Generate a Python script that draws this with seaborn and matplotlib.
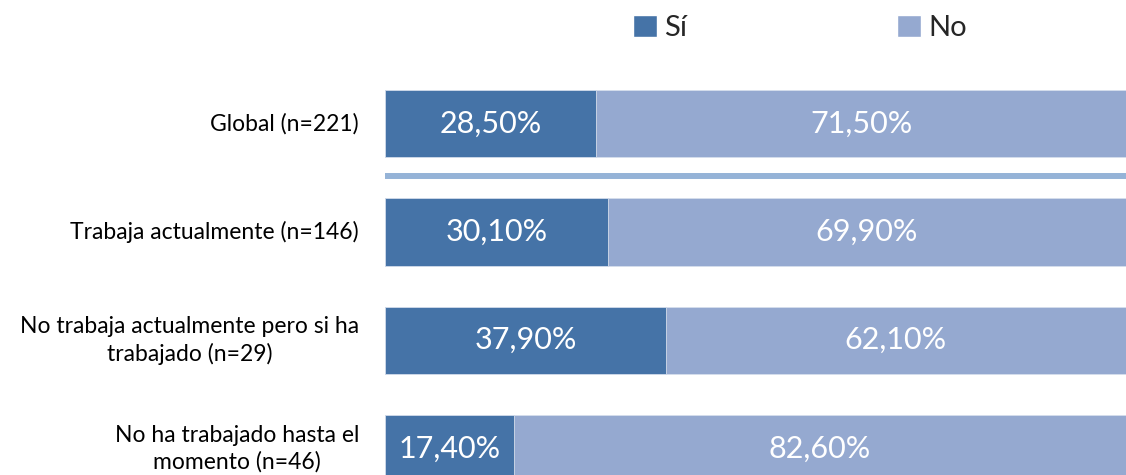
import pandas as pd
import matplotlib
matplotlib.use("Agg")
import matplotlib.pyplot as plt
import seaborn as sns
from matplotlib.patches import Patch

# --- DONNEES ---
categorias = [
    "Global (n=221)",
    "Trabaja actualmente (n=146)",
    "No trabaja actualmente pero si ha\ntrabajado (n=29)",
    "No ha trabajado hasta el\nmomento (n=46)",
]
si = [28.5, 30.1, 37.9, 17.4]
no = [71.5, 69.9, 62.1, 82.6]
series = ["Sí", "No"]

COLOR_SI = "#4573A7"
COLOR_NO = "#95A9D0"
COLOR_SEP = "#95B3D7"

sns.set_theme(style="white")
plt.rcParams["font.family"] = ["Lato", "DejaVu Sans"]

df = pd.DataFrame({"Categoria": categorias, "Si": si, "No": no})
df["Total"] = df["Si"] + df["No"]

fig = plt.figure(figsize=(11.26, 4.75), dpi=100)
ax = fig.add_axes([385 / 1126, 0, 1 - 385 / 1126, 1 - 69.5 / 475])

# barre totale (No) puis Sí par-dessus
sns.barplot(data=df, y="Categoria", x="Total", color=COLOR_NO, width=0.62,
            orient="h", ax=ax, saturation=1, edgecolor="#D6DEEC", linewidth=0.6)
sns.barplot(data=df, y="Categoria", x="Si", color=COLOR_SI, width=0.62,
            orient="h", ax=ax, saturation=1, edgecolor="#D6DEEC", linewidth=0.6)

fmt = lambda v: f"{v:.2f}".replace(".", ",") + "%"
for i, (s, n) in enumerate(zip(si, no)):
    ax.text(s / 2, i, fmt(s), ha="center", va="center", color="white", fontsize=22)
    ax.text(s + n / 2, i, fmt(n), ha="center", va="center", color="white", fontsize=22)

# ligne de séparation sous "Global"
ax.axhline(0.483, color=COLOR_SEP, linewidth=4.3)

ax.set_xlim(0, 100)
ax.set_ylim(3.244, -0.5)
ax.set_xlabel("")
ax.set_ylabel("")
ax.set_xticks([])
ax.set_yticks(range(len(categorias)))
ax.set_yticklabels([])
ax.tick_params(axis="y", length=0)
sns.despine(ax=ax, left=True, bottom=True)

# étiquettes des catégories (centrées ligne à ligne, alignées à droite)
for i, cat in enumerate(categorias):
    ax.text(-26 / 741, i, cat, transform=ax.get_yaxis_transform(), ha="right",
            va="center", multialignment="center", fontsize=16.5, color="black",
            linespacing=1.3)

handles = [Patch(facecolor=COLOR_SI), Patch(facecolor=COLOR_NO)]
fig.legend(handles, series, loc="center left", bbox_to_anchor=(633 / 1126, 1 - 28 / 475),
           ncol=2, frameon=False, fontsize=21, handlelength=0.82, handleheight=0.82,
           handletextpad=0.25, columnspacing=7.2, borderpad=0, borderaxespad=0)

fig.savefig("out.png", dpi=100)
